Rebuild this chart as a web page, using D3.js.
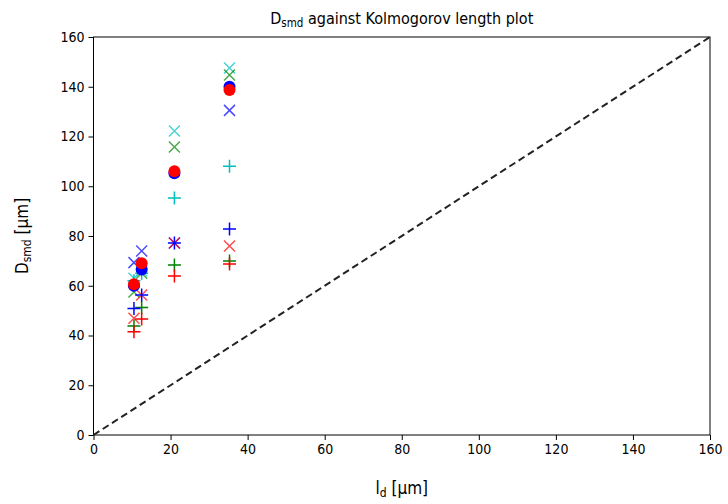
<!DOCTYPE html>
<html><head><meta charset="utf-8">
<script src="https://cdn.jsdelivr.net/npm/d3@7"></script>
<style>body{margin:0;background:#fff;} text{font-family:"DejaVu Sans Condensed","DejaVu Sans",sans-serif;font-stretch:condensed;}</style>
</head><body>
<svg id="c" width="728" height="504"></svg>
<script>
// x positions (Kolmogorov length, µm)
const xVals = [10.5, 12.5, 21.0, 35.3];
// series values (D_smd, µm)
const redCircle   = [60.6, 69.0, 106.0, 138.7];
const blueCircle  = [60.0, 66.5, 105.2, 140.0];
const redCross    = [46.9, 56.3, 77.2, 76.0];
const blueCross   = [69.3, 74.0, 77.2, 130.5];
const greenCross  = [57.5, 65.0, 115.8, 144.7];
const cyanCross   = [63.0, 66.0, 122.2, 147.5];
const redPlus     = [41.5, 46.6, 63.9, 68.7];
const bluePlus    = [50.9, 56.3, 77.2, 82.8];
const greenPlus   = [43.8, 51.3, 68.3, 70.0];
const cyanPlus    = [62.0, 65.0, 95.3, 108.0];
const xTicks = [0,20,40,60,80,100,120,140,160];
const yTicks = [0,20,40,60,80,100,120,140,160];

const svg = d3.select("#c");
const L=93.5, R=710, T=37, B=435;
const x = d3.scaleLinear().domain([0,160]).range([L,R]);
const y = d3.scaleLinear().domain([0,160]).range([B,T]);

// axes
const xa = svg.append("g").attr("transform",`translate(0,${B})`)
  .call(d3.axisBottom(x).tickValues(xTicks).tickSize(5).tickPadding(4));
const ya = svg.append("g").attr("transform",`translate(${L},0)`)
  .call(d3.axisLeft(y).tickValues(yTicks).tickSize(5).tickPadding(4));
[xa,ya].forEach(a=>{a.selectAll("text").attr("font-size",14).attr("fill","#000");
  a.selectAll("line").attr("stroke","#000"); a.select(".domain").remove();});

// frame
svg.append("rect").attr("x",L).attr("y",T).attr("width",R-L).attr("height",B-T)
  .attr("fill","none").attr("stroke","#000").attr("stroke-width",1);

// diagonal
svg.append("line").attr("x1",x(0)).attr("y1",y(0)).attr("x2",x(160)).attr("y2",y(160))
  .attr("stroke","#222").attr("stroke-width",2).attr("stroke-dasharray","7,4");

const g = svg.append("g");
function crosses(vals,color){
  const s=5.5;
  xVals.forEach((xv,i)=>{
    const cx=x(xv), cy=y(vals[i]);
    g.append("path").attr("d",`M${cx-s},${cy-s}L${cx+s},${cy+s}M${cx-s},${cy+s}L${cx+s},${cy-s}`)
      .attr("stroke",color).attr("stroke-width",1.5).attr("opacity",0.7).attr("fill","none");
  });
}
function pluses(vals,color){
  const s=6.5;
  xVals.forEach((xv,i)=>{
    const cx=x(xv), cy=y(vals[i]);
    g.append("path").attr("d",`M${cx-s},${cy}L${cx+s},${cy}M${cx},${cy-s}L${cx},${cy+s}`)
      .attr("stroke",color).attr("stroke-width",1.5).attr("fill","none");
  });
}
function circles(vals,color){
  g.selectAll(null).data(xVals).enter().append("circle")
    .attr("cx",d=>x(d)).attr("cy",(d,i)=>y(vals[i])).attr("r",6).attr("fill",color);
}
crosses(cyanCross,"#00bfbf");
crosses(greenCross,"#008000");
crosses(blueCross,"#0000ff");
crosses(redCross,"#ff0000");
pluses(cyanPlus,"#00bfbf");
pluses(greenPlus,"#008000");
pluses(redPlus,"#ff0000");
pluses(bluePlus,"#0000ff");
circles(blueCircle,"#0000ff");
circles(redCircle,"#ff0000");

// title
const t = svg.append("text").attr("x",(L+R)/2).attr("y",24).attr("text-anchor","middle").attr("font-size",16);
t.append("tspan").text("D");
t.append("tspan").attr("font-size",11.5).attr("dy",3).text("smd");
t.append("tspan").attr("dy",-3).text(" against Kolmogorov length plot");

// x label
const xl = svg.append("text").attr("x",(L+R)/2).attr("y",494).attr("text-anchor","middle").attr("font-size",17);
xl.append("tspan").text("l");
xl.append("tspan").attr("font-size",12).attr("dy",3).text("d");
xl.append("tspan").attr("dy",-3).text(" [µm]");

// y label
const yl = svg.append("text").attr("transform",`translate(28,${(T+B)/2}) rotate(-90)`).attr("text-anchor","middle").attr("font-size",17);
yl.append("tspan").text("D");
yl.append("tspan").attr("font-size",12).attr("dy",3).text("smd");
yl.append("tspan").attr("dy",-3).text(" [µm]");
</script>
</body></html>
